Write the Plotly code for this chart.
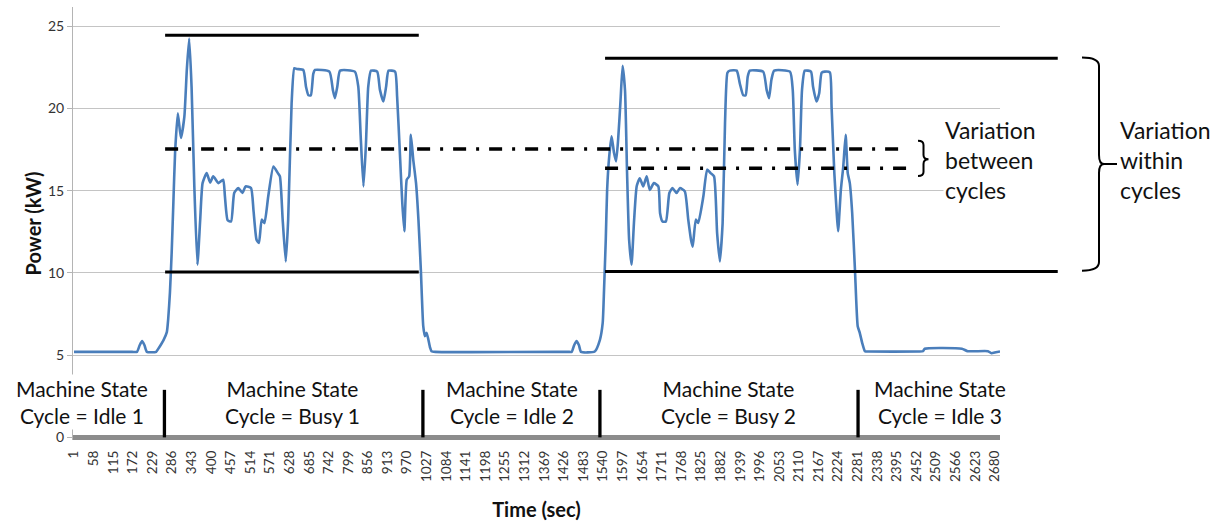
import plotly.graph_objects as go

# ---------------- data ----------------
time_sec = [1, 20, 170, 184, 192, 199, 206, 213, 240, 245, 261, 271, 275, 280, 285, 290, 295, 303, 312, 322, 329, 336,
            343, 351, 360, 368, 375, 387, 397, 406, 421, 435, 440, 448, 458, 467, 479, 491, 500, 516, 523, 532,
            539, 547, 555, 566, 581, 594, 600, 608, 617, 624, 634, 642, 649, 668, 676, 683, 690, 697, 702, 744,
            754, 760, 767, 775, 818, 828, 835, 843, 850, 857, 865, 883, 891, 901, 909, 916, 935, 941, 949, 956,
            962, 969, 976, 981, 988, 996, 1003, 1010, 1017, 1022, 1027, 1037, 1041, 1052,
            1438, 1449, 1456, 1463, 1470, 1476, 1516, 1531, 1539, 1543, 1548, 1552, 1558, 1565, 1572, 1578, 1584, 1591,
            1597, 1604, 1610, 1616, 1623, 1630, 1638, 1647, 1657, 1667, 1676, 1688, 1701, 1706, 1713, 1723, 1733,
            1742, 1754, 1764, 1778, 1788, 1796, 1801, 1810, 1817, 1832, 1843, 1853, 1863, 1872, 1880, 1888, 1895,
            1902, 1909, 1929, 1938, 1948, 1955, 1961, 1967, 2006, 2016, 2023, 2030, 2038, 2084, 2092, 2098, 2106,
            2113, 2119, 2127, 2145, 2151, 2161, 2169, 2176, 2185, 2200, 2205, 2213, 2220, 2224, 2232, 2239, 2246,
            2252, 2258, 2265, 2273, 2281, 2287, 2294, 2302, 2312, 2460, 2471, 2476, 2584, 2601, 2660, 2670, 2683, 2695]
power_kw = [5.2, 5.2, 5.2, 5.2, 5.6, 5.85, 5.6, 5.2, 5.2, 5.35, 5.9, 6.4, 7.2, 8.8, 11.2, 14.25, 17.3, 19.7, 18.2, 19.5, 22.3, 24.25,
            21.3, 15.26, 10.5, 13.2, 15.46, 16.07, 15.5, 15.87, 15.46, 15.67, 14.65, 13.2, 13.13, 14.86, 15.16, 14.86, 15.26, 15.16, 13.84, 12.02,
            11.82, 13.24, 13.03, 14.65, 16.47, 16.07, 15.87, 13.24, 10.7, 13.24, 20.3, 22.45, 22.4, 22.34, 21.3, 20.8, 20.8, 22.1, 22.34, 22.24,
            21.13, 20.63, 21.33, 22.3, 22.24, 21.33, 18.3, 15.26, 17.69, 21.33, 22.3, 22.24, 21.13, 20.42, 21.33, 22.3, 22.24, 20.72, 17.29, 14.25,
            12.53, 15.67, 15.87, 18.4, 16.88, 15.46, 13.24, 10.2, 6.76, 6.15, 6.36, 5.45, 5.24, 5.2,
            5.2, 5.2, 5.6, 5.85, 5.6, 5.2, 5.22, 5.93, 6.94, 8.97, 12.0, 15.05, 17.07, 18.3, 17.3, 16.78, 18.1, 20.5,
            22.6, 21.1, 16.07, 12.0, 10.5, 13.03, 15.27, 15.76, 15.26, 15.87, 15.05, 15.46, 15.26, 13.63, 13.13, 13.13, 14.86,
            15.16, 14.86, 15.16, 14.96, 13.24, 12.02, 11.6, 13.24, 13.04, 14.66, 16.28, 16.07, 15.87, 12.42, 10.7, 13.03, 19.13,
            22.17, 22.3, 22.3, 21.52, 20.8, 20.8, 21.93, 22.3, 22.24, 21.13, 20.63, 21.75, 22.3, 22.24, 21.13, 17.5, 15.37,
            17.5, 21.13, 22.3, 22.24, 21.33, 20.42, 20.93, 22.17, 22.24, 22.2, 20.1, 16.07, 13.63, 12.53, 15.05, 16.47, 18.4,
            16.07, 15.46, 13.63, 10.2, 6.76, 6.36, 5.75, 5.24, 5.22, 5.22, 5.24, 5.39, 5.39, 5.24, 5.24, 5.12, 5.18, 5.22]

tick_values = [1, 58, 115, 172, 229, 286, 343, 400, 457, 514, 571, 628, 685, 742, 799, 856, 913, 970,
               1027, 1084, 1141, 1198, 1255, 1312, 1369, 1426, 1483, 1540, 1597, 1654, 1711, 1768, 1825,
               1882, 1939, 1996, 2053, 2110, 2167, 2224, 2281, 2338, 2395, 2452, 2509, 2566, 2623, 2680]
tick_labels = [str(v) for v in tick_values]

# reference lines (start sec, end sec, kW)
solid_starts = [266, 266, 1546, 1546]
solid_ends = [1004, 1004, 2863, 2863]
solid_levels = [24.45, 10.06, 23.05, 10.08]
dashdot_starts = [266, 1546]
dashdot_ends = [2424, 2424]
dashdot_levels = [17.54, 16.36]

# machine-state boundaries and labels
state_bounds = [264, 1016, 1531, 2282]
state_centers = [24, 638, 1275, 1906, 2520]
state_names = ["Idle 1", "Busy 1", "Idle 2", "Busy 2", "Idle 3"]

# ---------------- layout geometry ----------------
W, H = 1221, 524
ML, MR, MT, MB = 73, 221, 7, 84
PW, PH = W - ML - MR, H - MT - MB
X_RANGE = [-2, 2695]
Y_RANGE = [-0.16, 26.17]
FONT = "Lato"


def px_x(px):
    return (px - ML) / PW


def px_y(py):
    return (H - MB - py) / PH


def x_to_paper(t):
    return (t - X_RANGE[0]) / (X_RANGE[1] - X_RANGE[0])


fig = go.Figure()
fig.add_trace(go.Scatter(x=time_sec, y=power_kw, mode="lines",
                         line=dict(color="#4a7ebb", width=2.6, shape="spline", smoothing=0.5),
                         showlegend=False))

shapes = []
for x0, x1, lv in zip(solid_starts, solid_ends, solid_levels):
    shapes.append(dict(type="line", xref="x", yref="y", x0=x0, x1=min(x1, X_RANGE[1]), y0=lv, y1=lv,
                       line=dict(color="black", width=3)))
    if x1 > X_RANGE[1]:
        shapes.append(dict(type="line", xref="paper", yref="y", x0=1.0, x1=x_to_paper(x1), y0=lv, y1=lv,
                           line=dict(color="black", width=3)))
for x0, x1, lv in zip(dashdot_starts, dashdot_ends, dashdot_levels):
    shapes.append(dict(type="line", xref="x", yref="y", x0=x0, x1=x1, y0=lv, y1=lv,
                       line=dict(color="black", width=3.5, dash="13px,10px,3px,10px")))
for b in state_bounds:
    shapes.append(dict(type="line", xref="x", yref="y", x0=b, x1=b, y0=0, y1=2.89,
                       line=dict(color="black", width=3.3)))


def path_from_px(cmds):
    out = []
    for c in cmds:
        if isinstance(c, str):
            out.append(c)
        else:
            out.append(f"{px_x(c[0]):.5f},{px_y(c[1]):.5f}")
    return " ".join(out)


big_brace = path_from_px(["M", (1082, 57.5), "Q", (1099, 57.5), (1099, 66), "L", (1099, 155),
                          "Q", (1099, 164), (1104, 164), "L", (1117, 164),
                          "M", (1104, 164), "Q", (1099, 164), (1099, 173), "L", (1099, 262),
                          "Q", (1099, 270.7), (1082, 270.7)])
small_brace = path_from_px(["M", (918, 140.7), "Q", (923.5, 140.7), (923.5, 145), "L", (923.5, 155),
                            "Q", (923.5, 159.3), (928.5, 159.3),
                            "Q", (923.5, 159.3), (923.5, 164), "L", (923.5, 172),
                            "Q", (923.5, 176), (918, 176)])
for p in (big_brace, small_brace):
    shapes.append(dict(type="path", xref="paper", yref="paper", path=p,
                       line=dict(color="black", width=2)))

annotations = []
for cx, name in zip(state_centers, state_names):
    annotations.append(dict(x=cx, y=2.16, xref="x", yref="y", xanchor="center", yanchor="middle",
                            text=f"Machine State<br>Cycle = {name}", showarrow=False,
                            font=dict(family=FONT, size=21, color="#111"),
                            bgcolor="white" if name == "Idle 1" else None))
annotations.append(dict(x=px_x(943), y=px_y(160), xref="paper", yref="paper", xanchor="left",
                        yanchor="middle", align="left", showarrow=False,
                        text="Variation<br>between<br>cycles", bgcolor="white",
                        font=dict(family=FONT, size=23, color="#111")))
annotations.append(dict(x=px_x(1118), y=px_y(160), xref="paper", yref="paper", xanchor="left",
                        yanchor="middle", align="left", showarrow=False,
                        text="Variation<br>within<br>cycles",
                        font=dict(family=FONT, size=23, color="#111")))

fig.update_layout(
    width=W, height=H, margin=dict(l=ML, r=MR, t=MT, b=MB),
    paper_bgcolor="white", plot_bgcolor="white",
    font=dict(family=FONT, color="#222"),
    shapes=shapes, annotations=annotations, showlegend=False,
)
fig.update_xaxes(range=X_RANGE, tickmode="array", tickvals=tick_values, ticktext=tick_labels,
                 tickangle=-90, tickfont=dict(family=FONT, size=13.5, color="#333"),
                 showgrid=False, zeroline=False, showline=False, ticks="",
                 ticklabelstandoff=7,
                 title=dict(text="<b>Time (sec)</b>", font=dict(family=FONT, size=20, color="#111"),
                            standoff=21))
fig.update_yaxes(range=Y_RANGE, tickmode="array", tickvals=[0, 5, 10, 15, 20, 25],
                 tickfont=dict(family=FONT, size=14, color="#333"),
                 showgrid=True, gridcolor="#c4c4c4", gridwidth=1,
                 zeroline=True, zerolinecolor="#8c8c8c", zerolinewidth=5,
                 showline=True, linecolor="#b4b4b4", linewidth=1,
                 ticks="outside", ticklen=5, tickcolor="#b4b4b4",
                 title=dict(text="<b>Power (kW)</b>", font=dict(family=FONT, size=20, color="#111"),
                            standoff=0))

fig.write_html("out.html", config={"displayModeBar": False},
               post_script="document.body.style.margin='0';")
